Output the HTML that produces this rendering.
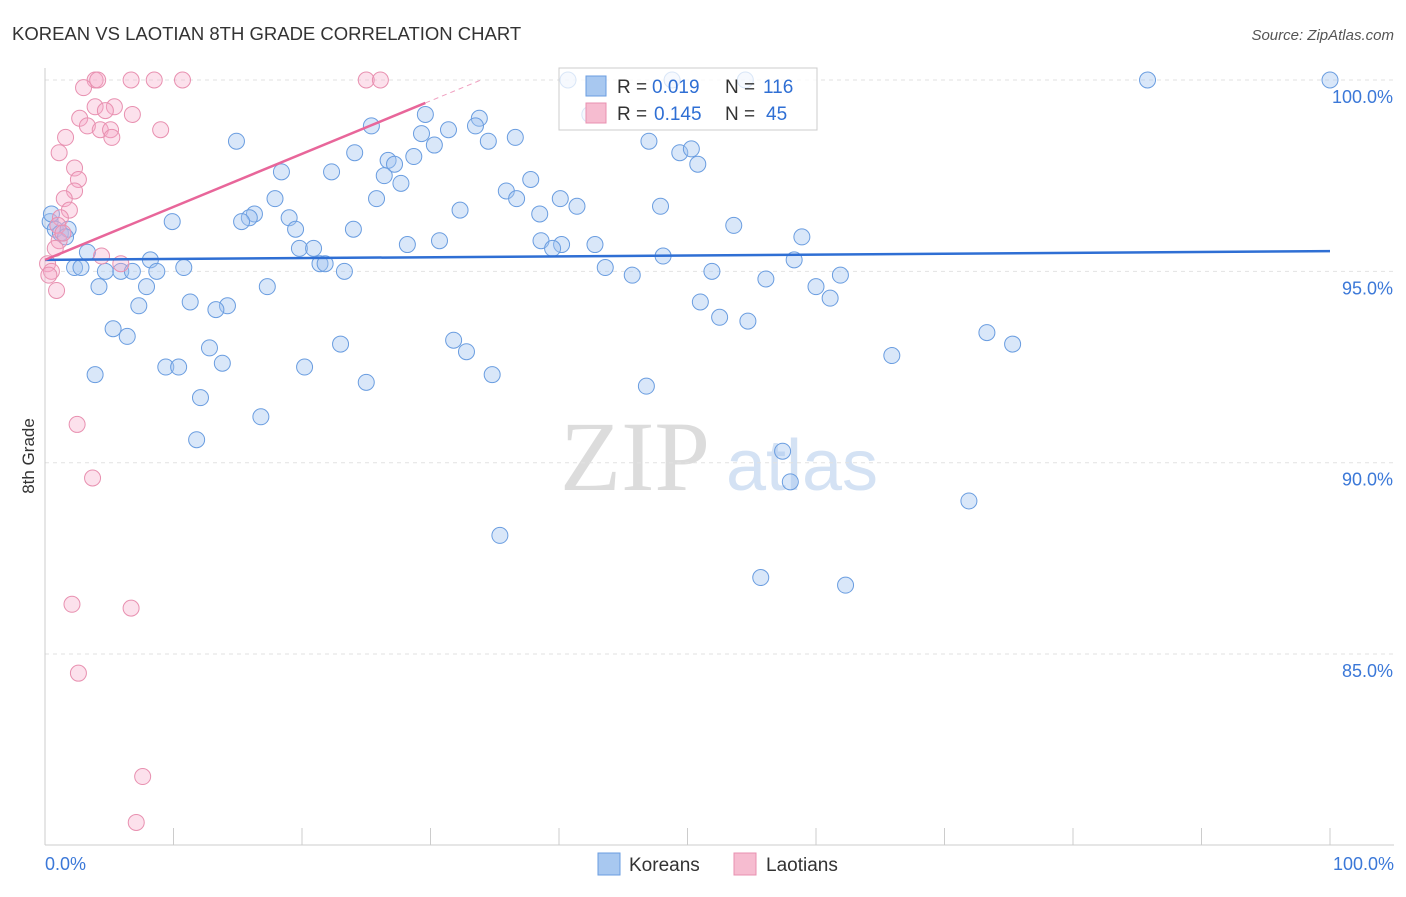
<!DOCTYPE html>
<html><head><meta charset="utf-8"><style>
body{margin:0;background:#fff;font-family:"Liberation Sans",sans-serif;}
</style></head><body>
<svg id="chart" width="1406" height="892" xmlns="http://www.w3.org/2000/svg" font-family="Liberation Sans, sans-serif">
<text x="12" y="40" font-size="18.5" fill="#333">KOREAN VS LAOTIAN 8TH GRADE CORRELATION CHART</text>
<text x="1394" y="40" font-size="15" fill="#555" font-style="italic" text-anchor="end">Source: ZipAtlas.com</text>
<text x="34" y="456" font-size="17" fill="#333" transform="rotate(-90 34 456)" text-anchor="middle">8th Grade</text>
<g><text x="635" y="490" font-size="100" fill="#dcdcdc" style="font-family:'Liberation Serif',serif" text-anchor="middle">ZIP</text><text x="802" y="490" font-size="72" fill="#d4e2f4" text-anchor="middle">atlas</text></g>
<g id="grid"></g><g id="axes"></g><g id="pts"></g><g id="trend"></g>
<g>
<rect x="559" y="68" width="258" height="62" fill="rgba(255,255,255,0.75)" stroke="#ccc"/>
<rect x="586" y="76" width="20" height="20" fill="#a8c8f0" stroke="#6a9de0"/>
<rect x="586" y="103" width="20" height="20" fill="#f6bcd0" stroke="#e890b0"/>
<text x="617" y="93" font-size="19" fill="#333">R =</text><text x="652" y="93" font-size="19" fill="#2f6fd4">0.019</text>
<text x="725" y="93" font-size="19" fill="#333">N =</text><text x="763" y="93" font-size="19" fill="#2f6fd4">116</text>
<text x="617" y="120" font-size="19" fill="#333">R =</text><text x="654" y="120" font-size="19" fill="#2f6fd4">0.145</text>
<text x="725" y="120" font-size="19" fill="#333">N =</text><text x="766" y="120" font-size="19" fill="#2f6fd4">45</text>
</g>
<g>
<rect x="598" y="853" width="22" height="22" fill="#a8c8f0" stroke="#6a9de0"/>
<text x="629" y="871" font-size="19" fill="#333">Koreans</text>
<rect x="734" y="853" width="22" height="22" fill="#f6bcd0" stroke="#e890b0"/>
<text x="766" y="871" font-size="19" fill="#333">Laotians</text>
</g>
</svg>
<script>
const yTicks=[100,95,90,85];
const yTickLabels=["100.0%","95.0%","90.0%","85.0%"];
const koreanX=[40.7,48.8,54.5,85.8,100,42.4,29.6,33.8,25.4,33.5,29.3,31.4,14.9,30.3,34.5,36.6,47.0,24.1,49.4,50.3,26.7,27.2,28.7,50.8,18.4,22.3,26.4,27.7,37.8,35.9,36.7,40.1,25.8,17.9,32.3,38.5,41.4,47.9,16.3,15.9,15.3,19.0,9.9,53.6,24.0,19.5,58.9,30.7,38.6,40.2,42.8,39.5,28.2,19.8,20.9,3.3,48.1,8.2,21.4,21.8,58.3,2.3,2.8,4.7,5.9,6.8,8.7,10.8,23.3,43.6,45.7,51.9,61.9,56.1,4.2,7.9,17.3,60.0,61.1,51.0,7.3,11.3,14.2,13.3,52.5,54.7,5.3,6.4,73.3,75.3,23.0,31.8,12.8,32.8,65.9,9.4,10.4,13.8,20.2,3.9,34.8,25.0,46.8,12.1,16.8,11.8,57.4,58.0,71.9,35.4,55.7,62.3,0.4,0.8,1.2,1.8,1.6,0.5];
const koreanY=[100,100,100,100,100,99.1,99.1,99.0,98.8,98.8,98.6,98.7,98.4,98.3,98.4,98.5,98.4,98.1,98.1,98.2,97.9,97.8,98.0,97.8,97.6,97.6,97.5,97.3,97.4,97.1,96.9,96.9,96.9,96.9,96.6,96.5,96.7,96.7,96.5,96.4,96.3,96.4,96.3,96.2,96.1,96.1,95.9,95.8,95.8,95.7,95.7,95.6,95.7,95.6,95.6,95.5,95.4,95.3,95.2,95.2,95.3,95.1,95.1,95.0,95.0,95.0,95.0,95.1,95.0,95.1,94.9,95.0,94.9,94.8,94.6,94.6,94.6,94.6,94.3,94.2,94.1,94.2,94.1,94.0,93.8,93.7,93.5,93.3,93.4,93.1,93.1,93.2,93.0,92.9,92.8,92.5,92.5,92.6,92.5,92.3,92.3,92.1,92.0,91.7,91.2,90.6,90.3,89.5,89.0,88.1,87.0,86.8,96.3,96.1,96.0,96.1,95.9,96.5];
const laoX=[3.9,4.1,6.7,8.5,10.7,25.0,26.1,3.0,3.9,5.4,4.7,2.7,3.3,6.8,4.3,5.1,9.0,1.6,5.2,1.1,2.3,2.6,2.3,1.5,1.9,1.2,1.0,1.1,0.8,4.4,5.9,0.2,0.5,0.3,0.9,2.5,3.7,2.1,6.7,2.6,7.6,7.1,1.4];
const laoY=[100,100,100,100,100,100,100,99.8,99.3,99.3,99.2,99.0,98.8,99.1,98.7,98.7,98.7,98.5,98.5,98.1,97.7,97.4,97.1,96.9,96.6,96.4,96.2,95.8,95.6,95.4,95.2,95.2,95.0,94.9,94.5,91.0,89.6,86.3,86.2,84.5,81.8,80.6,96.0];
const koreanTrend=[95.3,95.53];
const laoTrend=[95.3,99.4];
const laoTrendEndX=29.6;
const NS="http://www.w3.org/2000/svg";
const X=v=>45+v*12.85, Y=v=>80+(100-v)*38.27;
function mk(tag,attrs,parent){const e=document.createElementNS(NS,tag);for(const k in attrs)e.setAttribute(k,attrs[k]);const p=document.getElementById(parent);p.appendChild(e);return e;}
yTicks.forEach((t,i)=>{
 const l=mk('line',{x1:45,x2:1394,y1:Y(t),y2:Y(t),stroke:'#e2e2e2','stroke-dasharray':'4,4'},'grid');
 
 
 const tx=mk('text',{x:1393,y:Y(t)+23,'font-size':18,fill:'#3b78d8','text-anchor':'end'},'grid');
 tx.textContent=yTickLabels[i];
 
 
});
const ax=mk('line',{x1:45,x2:45,y1:68,y2:845,stroke:'#ccc'},'axes');


const bx=mk('line',{x1:45,x2:1394,y1:845,y2:845,stroke:'#ccc'},'axes');


for(let i=0;i<=10;i++){const t=mk('line',{x1:X(i*10),x2:X(i*10),y1:828,y2:845,stroke:'#ccc'},'axes');
 
 }
[[0,"0.0%","start",45],[100,"100.0%","end",1394]].forEach(a=>{const t=mk('text',{x:a[3],y:870,'font-size':18,fill:'#3b78d8','text-anchor':a[2]},'axes');t.textContent=a[1];
 
 });
koreanX.forEach((v,i)=>{const c=mk('circle',{cx:X(v),cy:Y(koreanY[i]),r:8,fill:'rgba(160,196,240,0.4)',stroke:'#6a9de0','stroke-width':1},'pts');
 
 });
laoX.forEach((v,i)=>{const c=mk('circle',{cx:X(v),cy:Y(laoY[i]),r:8,fill:'rgba(245,170,200,0.35)',stroke:'#e890b0','stroke-width':1},'pts');
 
 });
const kt=mk('line',{x1:X(0),x2:X(100),y1:Y(koreanTrend[0]),y2:Y(koreanTrend[1]),stroke:'#2f6fd4','stroke-width':2.5},'trend');


const slope=(laoTrend[1]-laoTrend[0])/laoTrendEndX;
const lt=mk('line',{x1:X(0),x2:X(laoTrendEndX),y1:Y(laoTrend[0]),y2:Y(laoTrend[1]),stroke:'#e8669a','stroke-width':2.5},'trend');


const xe=(100-laoTrend[0])/slope;
const ld=mk('line',{x1:X(laoTrendEndX),x2:X(xe),y1:Y(laoTrend[1]),y2:Y(100),stroke:'#f0a0c0','stroke-width':1,'stroke-dasharray':'5,4'},'trend');


</script>
</body></html>
